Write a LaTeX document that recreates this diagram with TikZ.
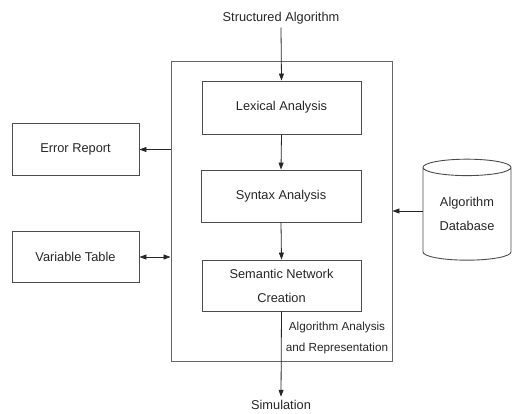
\documentclass[tikz,border=0pt]{standalone}
\usepackage{fontspec}
\setmainfont{Liberation Sans}
\usetikzlibrary{arrows.meta,shapes.geometric}
\begin{document}
\begin{tikzpicture}[x=1pt,y=-1pt,
  every node/.style={font=\fontsize{12.8}{24}\selectfont, text=black!85},
  block/.style={draw=black!70, line width=0.9pt, rectangle, inner sep=0pt, align=center},
  arr/.style={draw=black!85, line width=0.8pt, -{Triangle[length=7pt,width=5pt]}},
  darr/.style={draw=black!85, line width=0.8pt, {Triangle[length=7pt,width=5pt]}-{Triangle[length=7pt,width=5pt]}},
  small/.style={font=\fontsize{11.7}{21}\selectfont, align=center}]
  \useasboundingbox (0,0) rectangle (512,413);

  % enclosing frame of the analysis stages
  \node[block, draw=black!60, minimum width=221pt, minimum height=300pt] (outer) at (281.5,211) {};

  % analysis stages
  \node[block, minimum width=159pt, minimum height=53pt] (lex) at (281.5,107.5) {Lexical Analysis};
  \node[block, minimum width=160pt, minimum height=52pt] (syn) at (281,196) {Syntax Analysis};
  \node[block, minimum width=159pt, minimum height=51pt] (sem) at (281.5,285.5) {Semantic Network\\Creation};

  % side blocks
  \node[block, minimum width=127pt, minimum height=52pt] (err) at (75.5,149.5) {Error Report};
  \node[block, minimum width=127pt, minimum height=51pt] (var) at (75.5,257) {Variable Table};

  % algorithm database
  \node[draw=black!70, line width=0.9pt, cylinder, shape border rotate=90, aspect=0.3,
        minimum width=88pt, minimum height=101pt, inner sep=0pt, align=center] (db) at (467,214) {Algorithm\\Database};

  % input and output labels
  \node (in) at (281,18) {Structured Algorithm};
  \node (sim) at (281,405) {Simulation};
  \node[small] (lbl) at (337,337.5) {Algorithm Analysis\\and Representation};

  % connectors
  \draw[arr] (in.south) -- (lex.north);
  \draw[arr] (lex.south) -- (syn.north);
  \draw[arr] (syn.south) -- (sem.north);
  \draw[arr] (sem.south) -- (sim.north);
  \draw[arr] (outer.west |- err.east) -- (err.east);
  \draw[darr] (var.east) -- (outer.west |- var.east);
  \draw[arr] (db.west |- outer.east) -- (outer.east);
\end{tikzpicture}
\end{document}
